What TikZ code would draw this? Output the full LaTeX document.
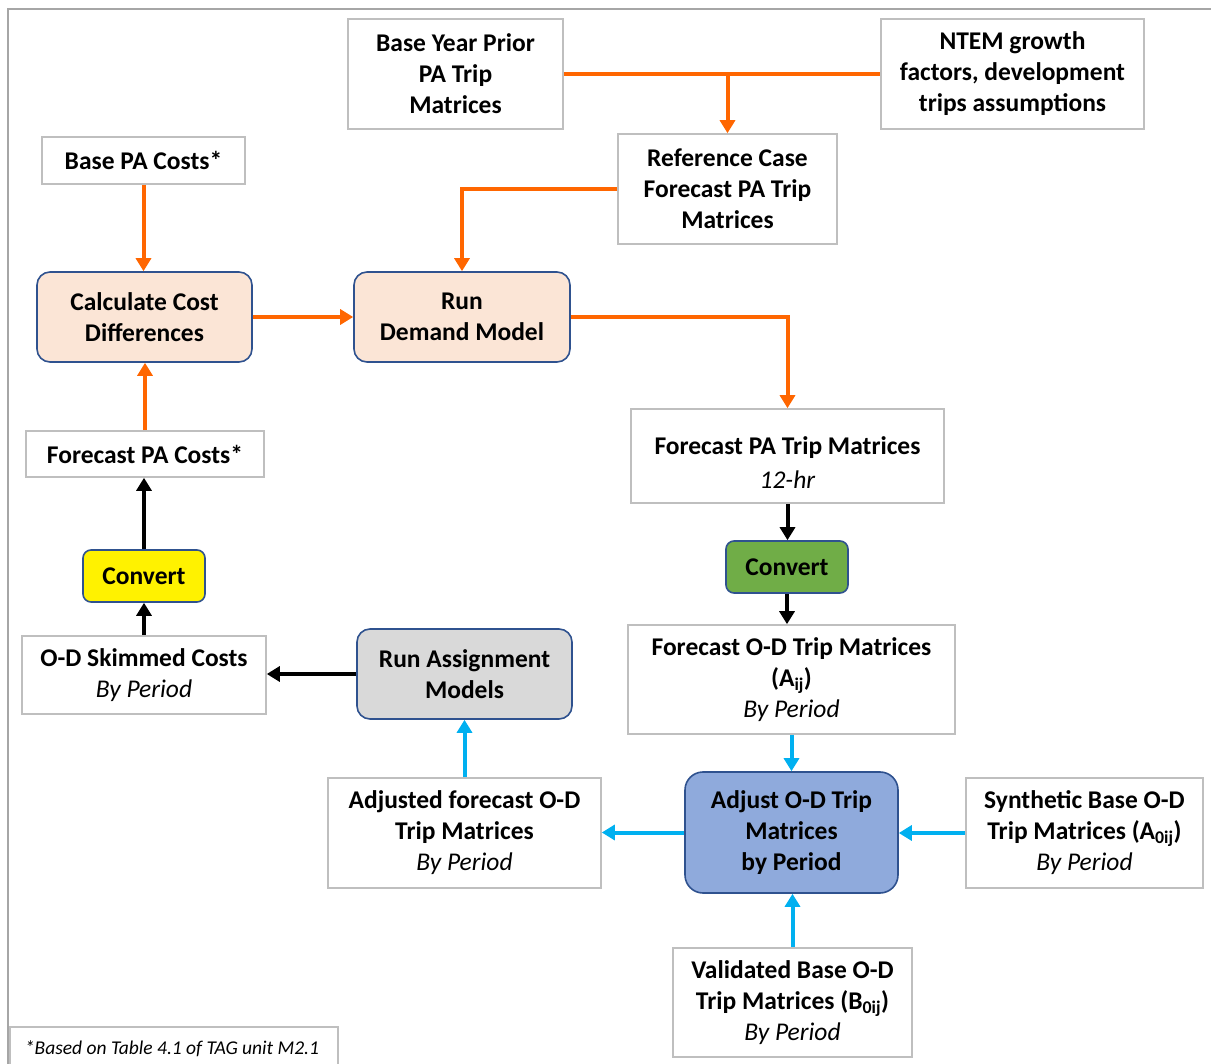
\documentclass[tikz,border=0pt]{standalone}
\usepackage{fontspec}
\setmainfont{Carlito}
\usetikzlibrary{arrows.meta}
\definecolor{orng}{HTML}{FF6600}
\definecolor{cyanb}{HTML}{00B0F0}
\definecolor{peach}{HTML}{FBE5D6}
\definecolor{adjfill}{HTML}{8FAADC}
\definecolor{grayfill}{HTML}{D9D9D9}
\definecolor{grn}{HTML}{70AD47}
\definecolor{rborder}{HTML}{2F528F}
\definecolor{bborder}{HTML}{BFBFBF}
\definecolor{frame}{HTML}{A6A6A6}
\begin{document}
\begin{tikzpicture}[x=1pt,y=-1pt,
  every node/.style={font=\fontsize{25.5}{31}\selectfont\bfseries},
  box/.style={draw=bborder,line width=1.6pt,fill=white,align=center,inner sep=0pt},
  rbox/.style={draw=rborder,line width=1.6pt,rounded corners=13pt,align=center,inner sep=0pt},
  tip/.style={-{Triangle[width=15pt,length=13pt]}},
  oarrow/.style={tip,draw=orng,line width=4pt},
  oline/.style={draw=orng,line width=4pt},
  karrow/.style={tip,draw=black,line width=4pt},
  barrow/.style={tip,draw=cyanb,line width=4pt}]
\useasboundingbox (0,0) rectangle (1211,1064);
\draw[frame,line width=1.6pt] (8,1070) -- (8,9) -- (1220,9);

\node[box,minimum width=215,minimum height=110] (bypm) at (455.5,74) {Base Year Prior\\PA Trip\\Matrices};
\node[box,minimum width=263,minimum height=110] (ntem) at (1012.5,74) {NTEM growth\\factors, development\\trips assumptions};
\node[box,minimum width=219,minimum height=110] (ref) at (727.5,189) {Reference Case\\Forecast PA Trip\\Matrices};
\node[box,minimum width=203,minimum height=47] (bpc) at (143.5,160.5) {Base PA Costs*};
\node[rbox,fill=peach,minimum width=215,minimum height=90] (ccd) at (144.5,317) {Calculate Cost\\Differences};
\node[rbox,fill=peach,minimum width=216,minimum height=90] (rdm) at (462,317) {Run\\Demand Model};
\node[box,minimum width=313,minimum height=94] (fpa) at (787.5,456) {};
\node[align=center] (fpatext) at (787.5,463) {Forecast PA Trip Matrices\\[3pt]\textit{\mdseries 12-hr}};
\node[box,minimum width=238,minimum height=46] (fpc) at (145,454) {Forecast PA Costs*};
\node[rbox,rounded corners=8pt,fill=yellow,minimum width=122,minimum height=52] (cvy) at (144,576) {Convert};
\node[rbox,rounded corners=8pt,fill=grn,minimum width=122,minimum height=52] (cvg) at (787,567) {Convert};
\node[box,minimum width=244,minimum height=78] (ods) at (144,675) {O-D Skimmed Costs\\\textit{\mdseries By Period}};
\node[rbox,fill=grayfill,minimum width=215,minimum height=90] (ram) at (464.5,674) {Run Assignment\\Models};
\node[box,minimum width=327,minimum height=109] (fod) at (791.5,679.5) {Forecast O-D Trip Matrices\\(A\textsubscript{ij})\\\textit{\mdseries By Period}};
\node[box,minimum width=273,minimum height=110] (afm) at (464.5,833) {Adjusted forecast O-D\\Trip Matrices\\\textit{\mdseries By Period}};
\node[rbox,rounded corners=18pt,fill=adjfill,minimum width=213,minimum height=121] (adj) at (791.5,832.5) {Adjust O-D Trip\\Matrices\\by Period};
\node[box,minimum width=237,minimum height=110] (syn) at (1084.5,833) {Synthetic Base O-D\\Trip Matrices (A\textsubscript{0ij})\\\textit{\mdseries By Period}};
\node[box,minimum width=239,minimum height=109] (val) at (792.5,1002.5) {Validated Base O-D\\Trip Matrices (B\textsubscript{0ij})\\\textit{\mdseries By Period}};
\node[box,minimum width=328,minimum height=56] (note) at (174,1055) {};
\node[font=\fontsize{19.5}{24}\selectfont\itshape] (notetext) at (172,1049) {*Based on Table 4.1 of TAG unit M2.1};

\coordinate (j1) at (ref.north |- bypm.east);
\draw[oline] (bypm.east) -- (ntem.west);
\draw[oarrow] (j1) -- (ref.north);
\draw[oarrow] (ref.west) -| (rdm.north);
\draw[oarrow] (bpc.south) -- (bpc.south |- ccd.north);
\draw[oarrow] (ccd.east) -- (rdm.west);
\draw[oarrow] (rdm.east) -| (fpa.north);
\draw[oarrow] (fpc.north) -- (fpc.north |- ccd.south);

\draw[karrow] (cvy.north) -- (cvy.north |- fpc.south);
\draw[karrow] (ods.north) -- (cvy.south);
\draw[karrow] (ram.west) -- (ram.west -| ods.east);
\draw[karrow] (fpa.south) -- (fpa.south |- cvg.north);
\draw[karrow] (cvg.south) -- (cvg.south |- fod.north);

\draw[barrow] (fod.south) -- (adj.north);
\draw[barrow] (adj.west) -- (adj.west -| afm.east);
\draw[barrow] (syn.west) -- (syn.west -| adj.east);
\draw[barrow] (val.north) -- (val.north |- adj.south);
\draw[barrow] (afm.north) -- (ram.south);
\end{tikzpicture}
\end{document}
